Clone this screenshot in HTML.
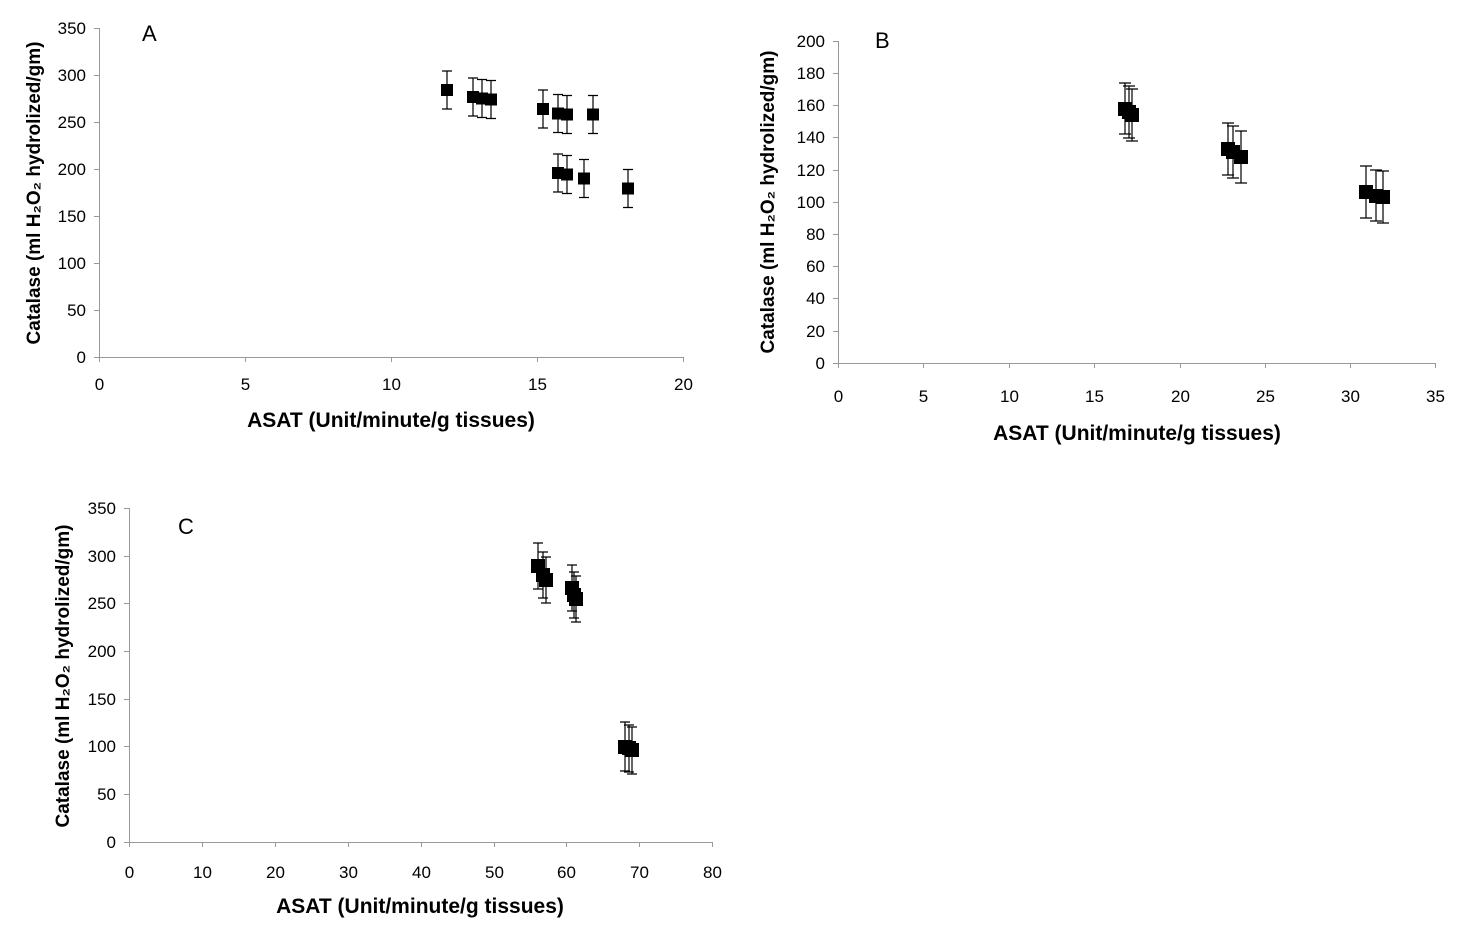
<!DOCTYPE html>
<html><head><meta charset="utf-8"><style>
html,body{margin:0;padding:0;background:#fff;}
svg{display:block;font-family:"Liberation Sans",Arial,sans-serif;}
.t{font-size:17px;fill:#000;}
.ax{stroke:#999;stroke-width:1;fill:none;}
.e{stroke:#000;stroke-width:1.2;fill:none;}
.m{fill:#000;}
.xl{font-size:21px;font-weight:bold;}
.yl{font-size:19px;font-weight:bold;}
.p{font-size:22px;}
</style></head><body>
<svg width="1470" height="936" viewBox="0 0 1470 936">
<!-- Chart A -->
<g>
<path class="ax" d="M99.5 28 V357.5 H684 M94 28.5h5.5 M94 75.5h5.5 M94 122.5h5.5 M94 169.5h5.5 M94 216.5h5.5 M94 263.5h5.5 M94 310.5h5.5 M94 357.5h5.5 M99.5 357v5 M245.5 357v5 M391.5 357v5 M537.5 357v5 M683.5 357v5"/>
<g class="t" text-anchor="end">
<text x="86" y="34">350</text><text x="86" y="81">300</text><text x="86" y="128">250</text><text x="86" y="175">200</text><text x="86" y="222">150</text><text x="86" y="269">100</text><text x="86" y="316">50</text><text x="86" y="363">0</text>
</g>
<g class="t" text-anchor="middle">
<text x="99.5" y="390">0</text><text x="245.5" y="390">5</text><text x="391.5" y="390">10</text><text x="537.5" y="390">15</text><text x="683.5" y="390">20</text>
</g>
<text class="xl" x="391" y="427" text-anchor="middle">ASAT (Unit/minute/g tissues)</text>
<text class="yl" transform="translate(40,193) rotate(-90)" text-anchor="middle">Catalase (ml H₂O₂ hydrolized/gm)</text>
<text class="p" x="142" y="41">A</text>
<path class="e" d="M447 71V109M442 71h10M442 109h10 M473 78V116M468 78h10M468 116h10 M482 79.5V117.5M477 79.5h10M477 117.5h10 M491 80.5V118.5M486 80.5h10M486 118.5h10 M543 90V128M538 90h10M538 128h10 M558 94.5V132.5M553 94.5h10M553 132.5h10 M567 95.5V133.5M562 95.5h10M562 133.5h10 M593 95.5V133.5M588 95.5h10M588 133.5h10 M558 154V192M553 154h10M553 192h10 M567 155.5V193.5M562 155.5h10M562 193.5h10 M584 159.5V197.5M579 159.5h10M579 197.5h10 M628 169.5V207.5M623 169.5h10M623 207.5h10"/>
<g class="m">
<rect x="441" y="84" width="12" height="12"/><rect x="467" y="91" width="12" height="12"/><rect x="476" y="92.5" width="12" height="12"/><rect x="485" y="93.5" width="12" height="12"/><rect x="537" y="103" width="12" height="12"/><rect x="552" y="107.5" width="12" height="12"/><rect x="561" y="108.5" width="12" height="12"/><rect x="587" y="108.5" width="12" height="12"/><rect x="552" y="167" width="12" height="12"/><rect x="561" y="168.5" width="12" height="12"/><rect x="578" y="172.5" width="12" height="12"/><rect x="622" y="182.5" width="12" height="12"/>
</g>
</g>
<!-- Chart B -->
<g>
<path class="ax" d="M838.5 41 V363.5 H1436 M833 41.5h5.5 M833 73.5h5.5 M833 105.5h5.5 M833 137.5h5.5 M833 170.5h5.5 M833 202.5h5.5 M833 234.5h5.5 M833 266.5h5.5 M833 298.5h5.5 M833 331.5h5.5 M833 363.5h5.5 M838.5 363v5 M923.5 363v5 M1009.5 363v5 M1094.5 363v5 M1180.5 363v5 M1265.5 363v5 M1350.5 363v5 M1435.5 363v5"/>
<g class="t" text-anchor="end">
<text x="825" y="47">200</text><text x="825" y="79">180</text><text x="825" y="111">160</text><text x="825" y="143">140</text><text x="825" y="176">120</text><text x="825" y="208">100</text><text x="825" y="240">80</text><text x="825" y="272">60</text><text x="825" y="304">40</text><text x="825" y="337">20</text><text x="825" y="369">0</text>
</g>
<g class="t" text-anchor="middle">
<text x="838.5" y="402">0</text><text x="923.5" y="402">5</text><text x="1009.5" y="402">10</text><text x="1094.5" y="402">15</text><text x="1180.5" y="402">20</text><text x="1265.5" y="402">25</text><text x="1350.5" y="402">30</text><text x="1435.5" y="402">35</text>
</g>
<text class="xl" x="1137" y="440" text-anchor="middle">ASAT (Unit/minute/g tissues)</text>
<text class="yl" transform="translate(774,202) rotate(-90)" text-anchor="middle">Catalase (ml H₂O₂ hydrolized/gm)</text>
<text class="p" x="875" y="48">B</text>
<path class="e" d="M1125 83V134M1119 83h12M1119 134h12 M1129 86V138M1123 86h12M1123 138h12 M1132 89V141M1126 89h12M1126 141h12 M1228 123V175M1222 123h12M1222 175h12 M1233 126V178M1227 126h12M1227 178h12 M1241 131V183M1235 131h12M1235 183h12 M1366 166V218M1360 166h12M1360 218h12 M1376 170V221M1370 170h12M1370 221h12 M1383 171V223M1377 171h12M1377 223h12"/>
<g class="m">
<rect x="1118" y="102" width="14" height="14"/><rect x="1122" y="105" width="14" height="14"/><rect x="1125" y="108" width="14" height="14"/><rect x="1221" y="142" width="14" height="14"/><rect x="1226" y="145" width="14" height="14"/><rect x="1234" y="150" width="14" height="14"/><rect x="1359" y="185" width="14" height="14"/><rect x="1369" y="189" width="14" height="14"/><rect x="1376" y="190" width="14" height="14"/>
</g>
</g>
<!-- Chart C -->
<g>
<path class="ax" d="M129.5 508 V842.5 H712 M124 508.5h5.5 M124 556.5h5.5 M124 603.5h5.5 M124 651.5h5.5 M124 699.5h5.5 M124 746.5h5.5 M124 794.5h5.5 M124 842.5h5.5 M129.5 842v5 M202.5 842v5 M275.5 842v5 M348.5 842v5 M421.5 842v5 M494.5 842v5 M566.5 842v5 M639.5 842v5 M712.5 842v5"/>
<g class="t" text-anchor="end">
<text x="116" y="514">350</text><text x="116" y="562">300</text><text x="116" y="609">250</text><text x="116" y="657">200</text><text x="116" y="705">150</text><text x="116" y="752">100</text><text x="116" y="800">50</text><text x="116" y="848">0</text>
</g>
<g class="t" text-anchor="middle">
<text x="129.5" y="878">0</text><text x="202.5" y="878">10</text><text x="275.5" y="878">20</text><text x="348.5" y="878">30</text><text x="421.5" y="878">40</text><text x="494.5" y="878">50</text><text x="566.5" y="878">60</text><text x="639.5" y="878">70</text><text x="712.5" y="878">80</text>
</g>
<text class="xl" x="420" y="913" text-anchor="middle">ASAT (Unit/minute/g tissues)</text>
<text class="yl" transform="translate(69,676) rotate(-90)" text-anchor="middle">Catalase (ml H₂O₂ hydrolized/gm)</text>
<text class="p" x="178" y="534">C</text>
<path class="e" d="M538 543V589M533 543h10M533 589h10 M543 552V598M538 552h10M538 598h10 M546 557V603M541 557h10M541 603h10 M572 565V611M567 565h10M567 611h10 M574 572V618M569 572h10M569 618h10 M576 576V622M571 576h10M571 622h10 M625 722V771M620 722h10M620 771h10 M629 725V772M624 725h10M624 772h10 M632 727V774M627 727h10M627 774h10"/>
<g class="m">
<rect x="531" y="559" width="14" height="14"/><rect x="536" y="568" width="14" height="14"/><rect x="539" y="573" width="14" height="14"/><rect x="565" y="581" width="14" height="14"/><rect x="567" y="588" width="14" height="14"/><rect x="569" y="592" width="14" height="14"/><rect x="618" y="740" width="14" height="14"/><rect x="622" y="741" width="14" height="14"/><rect x="625" y="743" width="14" height="14"/>
</g>
</g>
</svg>
</body></html>
